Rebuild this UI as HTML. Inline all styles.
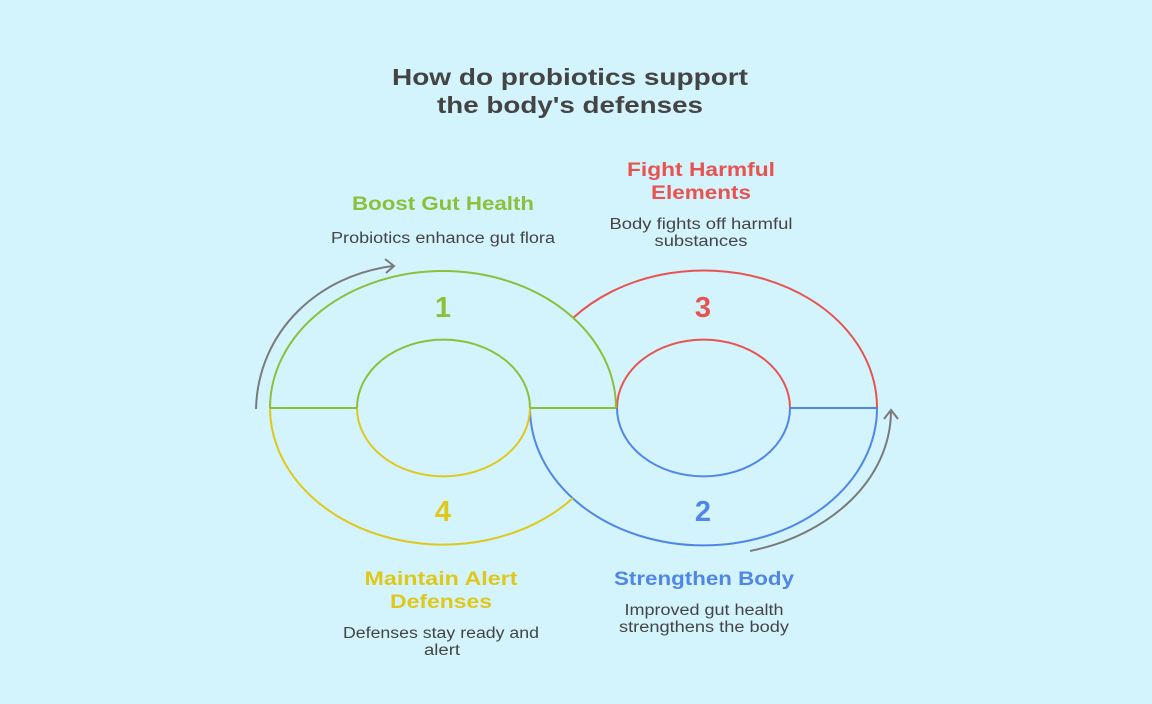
<!DOCTYPE html>
<html><head><meta charset="utf-8"><style>
html,body{margin:0;padding:0;background:#d3f4fd;}
svg{display:block;font-family:"Liberation Sans",sans-serif;}
</style></head><body>
<svg width="1152" height="704" viewBox="0 0 1152 704">
<rect width="1152" height="704" fill="#d3f4fd"/>
<g font-weight="bold" fill="#444" font-size="23" text-anchor="middle">
<text x="570" y="85" textLength="356" lengthAdjust="spacingAndGlyphs">How do probiotics support</text>
<text x="570" y="113" textLength="266" lengthAdjust="spacingAndGlyphs">the body's defenses</text>
</g>
<g fill="none" stroke-width="2">
<path d="M573,318 A173,137 0 0 1 877,408" stroke="#e8524f"/>
<path d="M617,408 A86,68 0 0 1 790,408" stroke="#e8524f"/>
<path d="M530,408 A173,137 0 0 0 877,408" stroke="#4f86e8"/>
<path d="M617,408 A86,68 0 0 0 790,408" stroke="#4f86e8"/>
<line x1="790" y1="408" x2="877" y2="408" stroke="#4f86e8"/>
<path d="M270,408 A173,137 0 0 1 616,408" stroke="#8dbf3a"/>
<path d="M357,408 A86,68 0 0 1 530,408" stroke="#8dbf3a"/>
<path d="M270,408 A173,137 0 0 0 573,498" stroke="#e0c81a"/>
<path d="M357,408 A86,68 0 0 0 530,408" stroke="#e0c81a"/>
<line x1="270" y1="408" x2="357" y2="408" stroke="#8dbf3a"/>
<line x1="530" y1="408" x2="616" y2="408" stroke="#8dbf3a"/>
<path d="M256,409 C258,330 320,275 393,266" stroke="#7a7a7a"/>
<path d="M385,259 L394,266 L386,273" stroke="#7a7a7a"/>
<path d="M750,551 C830,535 890,480 891,412" stroke="#7a7a7a"/>
<path d="M884,419 L891,410 L898,419" stroke="#7a7a7a"/>
</g>
<g font-weight="bold" font-size="29" text-anchor="middle">
<text x="443" y="317" fill="#8dbf3a">1</text>
<text x="703" y="317" fill="#e8524f">3</text>
<text x="703" y="521" fill="#4f86e8">2</text>
<text x="443" y="521" fill="#e0c81a">4</text>
</g>
<g font-weight="bold" font-size="19" text-anchor="middle" lengthAdjust="spacingAndGlyphs">
<text x="443" y="210" fill="#8dbf3a" textLength="182" lengthAdjust="spacingAndGlyphs">Boost Gut Health</text>
<text x="701" y="176" fill="#e8524f" textLength="148" lengthAdjust="spacingAndGlyphs">Fight Harmful</text>
<text x="701" y="199" fill="#e8524f" textLength="100" lengthAdjust="spacingAndGlyphs">Elements</text>
<text x="441" y="585" fill="#e0c81a" textLength="153" lengthAdjust="spacingAndGlyphs">Maintain Alert</text>
<text x="441" y="608" fill="#e0c81a" textLength="102" lengthAdjust="spacingAndGlyphs">Defenses</text>
<text x="704" y="585" fill="#4f86e8" textLength="180" lengthAdjust="spacingAndGlyphs">Strengthen Body</text>
</g>
<g font-size="15.5" fill="#444" text-anchor="middle">
<text x="443" y="243" textLength="224" lengthAdjust="spacingAndGlyphs">Probiotics enhance gut flora</text>
<text x="701" y="229" textLength="183" lengthAdjust="spacingAndGlyphs">Body fights off harmful</text>
<text x="701" y="246" textLength="93" lengthAdjust="spacingAndGlyphs">substances</text>
<text x="441" y="638" textLength="196" lengthAdjust="spacingAndGlyphs">Defenses stay ready and</text>
<text x="442" y="655" textLength="36" lengthAdjust="spacingAndGlyphs">alert</text>
<text x="704" y="615" textLength="159" lengthAdjust="spacingAndGlyphs">Improved gut health</text>
<text x="704" y="632" textLength="170" lengthAdjust="spacingAndGlyphs">strengthens the body</text>
</g>
</svg>
</body></html>
